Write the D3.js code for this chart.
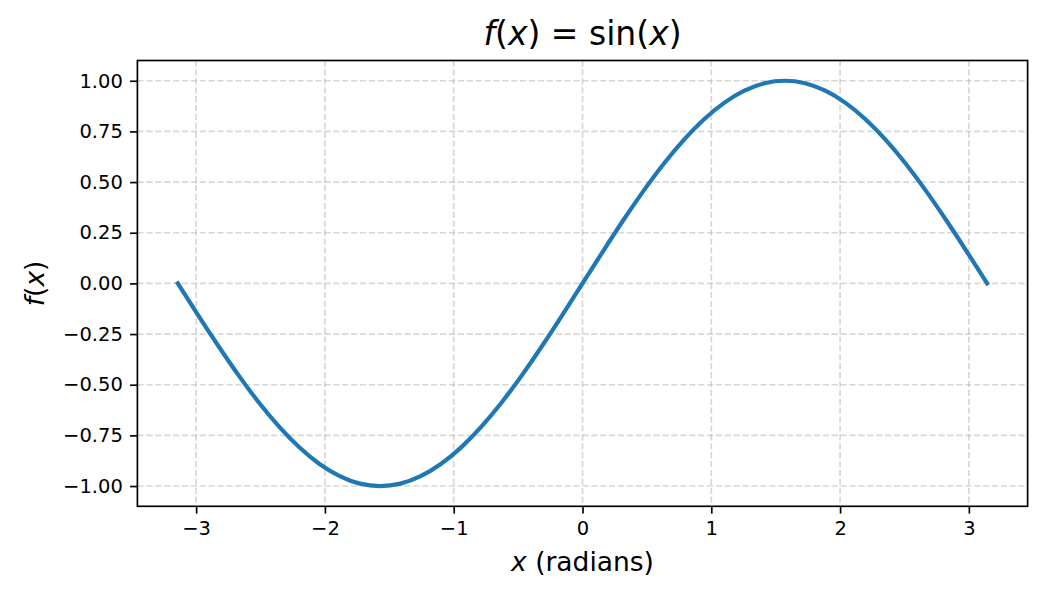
<!DOCTYPE html>
<html>
<head>
<meta charset="utf-8">
<script src="https://cdn.jsdelivr.net/npm/d3@7"></script>
<style>
  html, body { margin: 0; padding: 0; background: #fff; }
  svg { display: block; font-family: "DejaVu Sans", sans-serif; }
</style>
</head>
<body>
<svg id="chart" width="1050" height="600"></svg>
<script>
(function () {
  "use strict";

  // values
  var xValues = [-3.142, -2.985, -2.827, -2.670, -2.513, -2.356, -2.199, -2.042, -1.885, -1.728,
    -1.571, -1.414, -1.257, -1.100, -0.942, -0.785, -0.628, -0.471, -0.314, -0.157,
    0.000, 0.157, 0.314, 0.471, 0.628, 0.785, 0.942, 1.100, 1.257, 1.414,
    1.571, 1.728, 1.885, 2.042, 2.199, 2.356, 2.513, 2.670, 2.827, 2.985, 3.142];
  var yValues = [0.000, -0.156, -0.309, -0.454, -0.588, -0.707, -0.809, -0.891, -0.951, -0.988,
    -1.000, -0.988, -0.951, -0.891, -0.809, -0.707, -0.588, -0.454, -0.309, -0.156,
    0.000, 0.156, 0.309, 0.454, 0.588, 0.707, 0.809, 0.891, 0.951, 0.988,
    1.000, 0.988, 0.951, 0.891, 0.809, 0.707, 0.588, 0.454, 0.309, 0.156, 0.000];
  var xTicks = [-3, -2, -1, 0, 1, 2, 3];
  var yTicks = [-1.00, -0.75, -0.50, -0.25, 0.00, 0.25, 0.50, 0.75, 1.00];

  var LEFT = 137.4, RIGHT = 1027.6, TOP = 60.5, BOTTOM = 506.3;
  var xMin = -3.456, xMax = 3.456, yMin = -1.1, yMax = 1.1;

  var svg = d3.select("#chart");
  var x = d3.scaleLinear().domain([xMin, xMax]).range([LEFT, RIGHT]);
  var y = d3.scaleLinear().domain([yMin, yMax]).range([BOTTOM, TOP]);
  var fmtY = d3.format(".2f");
  var fmtX = d3.format("d");

  // grid
  var grid = svg.append("g")
    .attr("stroke", "#b0b0b0")
    .attr("stroke-opacity", 0.5)
    .attr("stroke-width", 1.67)
    .attr("stroke-dasharray", "6.2,2.7");
  grid.selectAll("line.gx").data(xTicks).join("line")
    .attr("class", "gx")
    .attr("x1", function (d) { return x(d); }).attr("x2", function (d) { return x(d); })
    .attr("y1", TOP).attr("y2", BOTTOM);
  grid.selectAll("line.gy").data(yTicks).join("line")
    .attr("class", "gy")
    .attr("y1", function (d) { return y(d); }).attr("y2", function (d) { return y(d); })
    .attr("x1", LEFT).attr("x2", RIGHT);

  // curve
  var pts = xValues.map(function (v, i) { return [v, yValues[i]]; });
  var line = d3.line()
    .x(function (d) { return x(d[0]); })
    .y(function (d) { return y(d[1]); })
    .curve(d3.curveNatural);
  svg.append("path")
    .datum(pts)
    .attr("d", line)
    .attr("fill", "none")
    .attr("stroke", "#1f77b4")
    .attr("stroke-width", 4.2)
    .attr("stroke-linecap", "square")
    .attr("stroke-linejoin", "round");

  // axes
  var xAxis = d3.axisBottom(x).tickValues(xTicks).tickFormat(fmtX)
    .tickSize(7.3).tickPadding(7.3).tickSizeOuter(0);
  var yAxis = d3.axisLeft(y).tickValues(yTicks).tickFormat(fmtY)
    .tickSize(7.3).tickPadding(7.3).tickSizeOuter(0);

  var gx = svg.append("g").attr("transform", "translate(0," + BOTTOM + ")").call(xAxis);
  var gy = svg.append("g").attr("transform", "translate(" + LEFT + ",0)").call(yAxis);
  [gx, gy].forEach(function (g) {
    g.attr("font-size", null).attr("font-family", null);
    g.select(".domain").remove();
    g.selectAll(".tick line").attr("stroke", "#000").attr("stroke-width", 1.67);
    g.selectAll(".tick text")
      .attr("fill", "#000")
      .style("font-family", "DejaVu Sans")
      .style("font-size", "19.5px");
  });

  // frame
  svg.append("rect")
    .attr("x", LEFT).attr("y", TOP)
    .attr("width", RIGHT - LEFT).attr("height", BOTTOM - TOP)
    .attr("fill", "none")
    .attr("stroke", "#000")
    .attr("stroke-width", 1.67);

  // title
  var title = svg.append("text")
    .attr("x", (LEFT + RIGHT) / 2)
    .attr("y", 45)
    .attr("text-anchor", "middle")
    .attr("font-size", 33)
    .attr("fill", "#000");
  title.append("tspan").attr("font-style", "italic").text("f");
  title.append("tspan").text("(");
  title.append("tspan").attr("font-style", "italic").text("x");
  title.append("tspan").text(") = sin(");
  title.append("tspan").attr("font-style", "italic").text("x");
  title.append("tspan").text(")");

  // x label
  var xl = svg.append("text")
    .attr("x", (LEFT + RIGHT) / 2)
    .attr("y", 571)
    .attr("text-anchor", "middle")
    .attr("font-size", 26.5)
    .attr("fill", "#000");
  xl.append("tspan").attr("font-style", "italic").text("x");
  xl.append("tspan").text(" (radians)");

  // y label
  var yl = svg.append("text")
    .attr("transform", "translate(44," + ((TOP + BOTTOM) / 2) + ") rotate(-90)")
    .attr("text-anchor", "middle")
    .attr("font-size", 26.5)
    .attr("fill", "#000");
  yl.append("tspan").attr("font-style", "italic").text("f");
  yl.append("tspan").text("(");
  yl.append("tspan").attr("font-style", "italic").text("x");
  yl.append("tspan").text(")");
})();
</script>
</body>
</html>
